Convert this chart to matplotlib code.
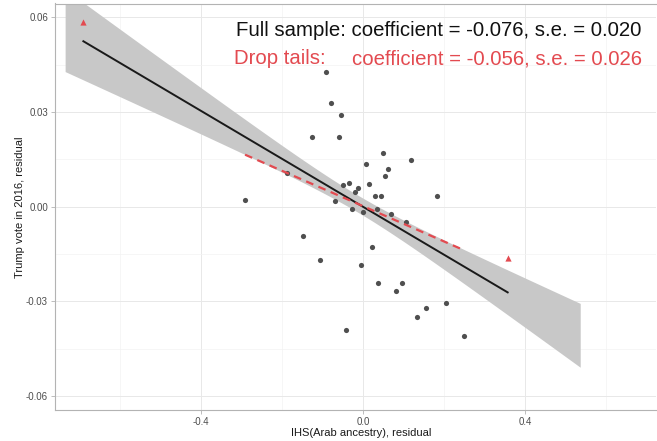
import numpy as np
import matplotlib
matplotlib.use("Agg")
import matplotlib.pyplot as plt

plt.rcParams['font.family'] = ['Liberation Sans', 'DejaVu Sans']

# ---- data ----
x_pts = [-0.291, -0.187, -0.147, -0.125, -0.106, -0.091, -0.079, -0.068, -0.060, -0.054,
         -0.049, -0.041, -0.034, -0.027, -0.019, -0.013, -0.006, 0.001, 0.0074, 0.014,
         0.021, 0.029, 0.034, 0.038, 0.044, 0.049, 0.055, 0.061, 0.068, 0.081,
         0.096, 0.106, 0.119, 0.133, 0.156, 0.183, 0.204, 0.248]
y_pts = [0.0021, 0.0107, -0.0092, 0.0221, -0.0169, 0.0428, 0.0329, 0.0018, 0.0220, 0.0290,
         0.0068, -0.0390, 0.0076, -0.0006, 0.0048, 0.0058, -0.0185, -0.0016, 0.0134, 0.0073,
         -0.0129, 0.0035, -0.0007, -0.0241, 0.0034, 0.0169, 0.0099, 0.0120, -0.0023, -0.0267,
         -0.0241, -0.0048, 0.0148, -0.0350, -0.0321, 0.0035, -0.0305, -0.0409]
x_tails = [-0.690, 0.357]
y_tails = [0.0584, -0.0161]

full_coef, full_int = -0.076, 0.0
drop_coef, drop_int = -0.056, 0.0002
# confidence band of the full-sample fit
band_x = [-0.735, 0.536]
band_a, band_b, band_x0 = 0.0027, 0.0177, -0.0147

x_ticks = [-0.4, 0.0, 0.4]
y_ticks = [-0.06, -0.03, 0.00, 0.03, 0.06]
x_tick_labels = ["-0.4", "0.0", "0.4"]
y_tick_labels = ["-0.06", "-0.03", "0.00", "0.03", "0.06"]

line1 = "Full sample: coefficient = -0.076, s.e. = 0.020"
line2a = "Drop tails:"
line2b = "coefficient = -0.056, s.e. = 0.026"

RED = "#E34A50"

fig = plt.figure(figsize=(6.57, 4.41), dpi=100)
ax = fig.add_axes([55/657, 31/441, 601/657, 406.5/441])

# band
bx = np.linspace(band_x[0], band_x[1], 200)
bc = full_int + full_coef * bx
bh = np.sqrt(band_a**2 + (band_b * (bx - band_x0))**2)
ax.fill_between(bx, bc - bh, bc + bh, color="#C8C8C8", lw=0, zorder=2)

# points
ax.scatter(x_pts, y_pts, s=14, color="#4F4F4F", zorder=4, lw=0)
ax.scatter(x_tails, y_tails, s=20, marker="^", color=RED, zorder=4, lw=0)

# full sample line
all_x = np.array(x_pts + x_tails)
lx = np.array([all_x.min(), all_x.max()])
ax.plot(lx, full_int + full_coef * lx, color="#1A1A1A", lw=1.4, zorder=5)

# drop tails line
dx = np.array([min(x_pts), max(x_pts)])
ax.plot(dx, drop_int + drop_coef * dx, color=RED, lw=1.6, ls=(0, (3.5, 2.5)), zorder=5)

ax.set_xlim(-0.760, 0.723)
ax.set_ylim(-0.0644, 0.0644)
ax.set_xticks(x_ticks)
ax.set_xticklabels(x_tick_labels)
ax.set_yticks(y_ticks)
ax.set_yticklabels(y_tick_labels)
ax.set_xticks([-0.6, -0.2, 0.2, 0.6], minor=True)
ax.set_yticks([-0.045, -0.015, 0.015, 0.045], minor=True)

ax.grid(which="major", color="#E8E8E8", lw=0.7, zorder=0)
ax.grid(which="minor", color="#F3F3F3", lw=0.5, zorder=0)
ax.set_axisbelow(True)
ax.tick_params(which="major", length=3, width=0.6, color="#B3B3B3",
               labelsize=7, labelcolor="#4D4D4D", pad=2)
ax.tick_params(which="minor", length=0)
for s in ax.spines.values():
    s.set_color("#B3B3B3")
    s.set_linewidth(0.8)
ax.spines["right"].set_visible(False)

ax.set_xlabel("IHS(Arab ancestry), residual", fontsize=8, color="#1A1A1A")
ax.set_ylabel("Trump vote in 2016, residual", fontsize=8, color="#1A1A1A")
ax.xaxis.set_label_coords(0.51, -0.045)
ax.yaxis.set_label_coords(-0.05, 0.5)

ax.text(0.976, 0.920, line1, transform=ax.transAxes, ha="right", va="baseline",
        fontsize=14.7, color="#111111", zorder=6)
ax.text(0.298, 0.851, line2a, transform=ax.transAxes, ha="left", va="baseline",
        fontsize=14.7, color=RED, zorder=6)
ax.text(0.976, 0.851, line2b, transform=ax.transAxes, ha="right", va="baseline",
        fontsize=14.7, color=RED, zorder=6)

fig.savefig("out.png", dpi=100)
